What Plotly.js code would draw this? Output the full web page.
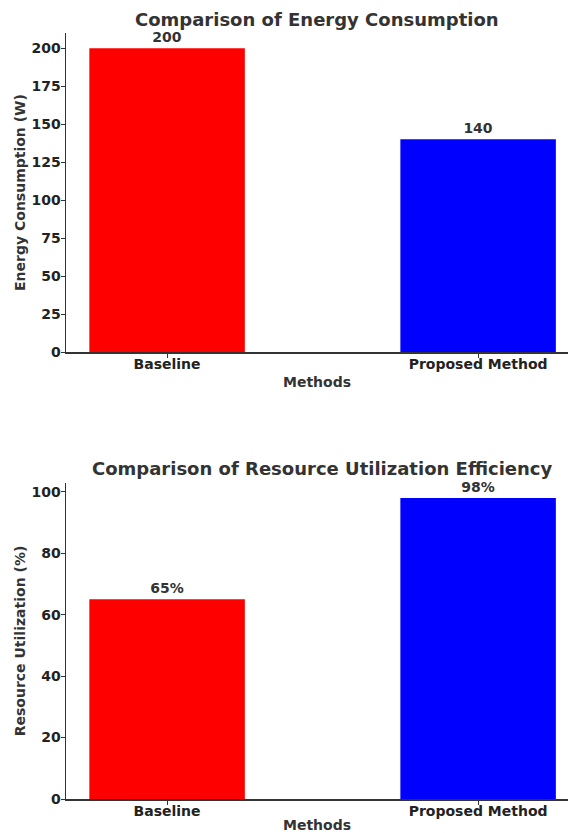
<!DOCTYPE html>
<html>
<head>
<meta charset="utf-8">
<script src="https://cdn.plot.ly/plotly-3.0.1.min.js"></script>
<style>html,body{margin:0;padding:0;background:#fff;}#chart{width:568px;height:833px;}</style>
</head>
<body>
<div id="chart"></div>
<script>
const methods = ["Baseline", "Proposed Method"];
const energy = [200, 140];
const utilization = [65, 98];
const barColors = ["#ff0000", "#0000ff"];
const titles = ["Comparison of Energy Consumption", "Comparison of Resource Utilization Efficiency"];
const yTitles = ["Energy Consumption (W)", "Resource Utilization (%)"];
const xTitle = "Methods";
const energyTicks = [0, 25, 50, 75, 100, 125, 150, 175, 200];
const utilTicks = [0, 20, 40, 60, 80, 100];

const FONT = "DejaVu Sans, sans-serif";
const tickFont = {family: FONT, size: 14, color: "#222", weight: "bold"};
const labFont = {family: FONT, size: 14, color: "#333", weight: "bold"};

const traces = [
  {type: "bar", x: methods, y: energy, xaxis: "x", yaxis: "y", width: 0.5,
   marker: {color: barColors}, text: energy.map(String), texttemplate: "%{text}",
   textposition: "outside", textfont: labFont, constraintext: "none", cliponaxis: false,
   hoverinfo: "none"},
  {type: "bar", x: methods, y: utilization, xaxis: "x2", yaxis: "y2", width: 0.5,
   marker: {color: barColors}, text: utilization.map(v => v + "%"), texttemplate: "%{text}",
   textposition: "outside", textfont: labFont, constraintext: "none", cliponaxis: false,
   hoverinfo: "none"}
];

function xax(anchor, standoff) {
  return {anchor: anchor, domain: [0, 1], range: [-0.325, 1.289], type: "category",
    showline: true, linecolor: "#333", linewidth: 1.5, ticks: "outside", ticklen: 4,
    tickcolor: "#333", tickfont: tickFont, showgrid: false, zeroline: false,
    ticklabelstandoff: -5,
    title: {text: xTitle, font: labFont, standoff: standoff}};
}
function yax(anchor, dom, range, ticks, title) {
  return {anchor: anchor, domain: dom, range: range, tickvals: ticks,
    showline: true, linecolor: "#333", linewidth: 1.5, ticks: "outside", ticklen: 4,
    tickcolor: "#333", tickfont: tickFont, showgrid: false, zeroline: false,
    ticklabelstandoff: -3,
    title: {text: title, font: labFont, standoff: 2}};
}

const layout = {
  width: 568, height: 833, showlegend: false,
  paper_bgcolor: "#fff", plot_bgcolor: "#fff",
  margin: {l: 66, r: 0, t: 0, b: 0},
  xaxis: xax("y", 6),
  yaxis: yax("x", [0.5774, 0.9604], [0, 210], energyTicks, yTitles[0]),
  xaxis2: xax("y2", 9),
  yaxis2: yax("x2", [0.0408, 0.4202], [0, 102.9], utilTicks, yTitles[1]),
  annotations: [
    {text: titles[0], xref: "paper", yref: "paper", x: 0.5, y: (833 - 20) / 833,
     xanchor: "center", yanchor: "middle", showarrow: false,
     font: {family: FONT, size: 18, color: "#333", weight: "bold"}},
    {text: titles[1], xref: "paper", yref: "paper", x: 0.51, y: (833 - 468) / 833,
     xanchor: "center", yanchor: "middle", showarrow: false,
     font: {family: FONT, size: 18, color: "#333", weight: "bold"}}
  ]
};

Plotly.newPlot("chart", traces, layout, {staticPlot: true, displayModeBar: false});
</script>
</body>
</html>
